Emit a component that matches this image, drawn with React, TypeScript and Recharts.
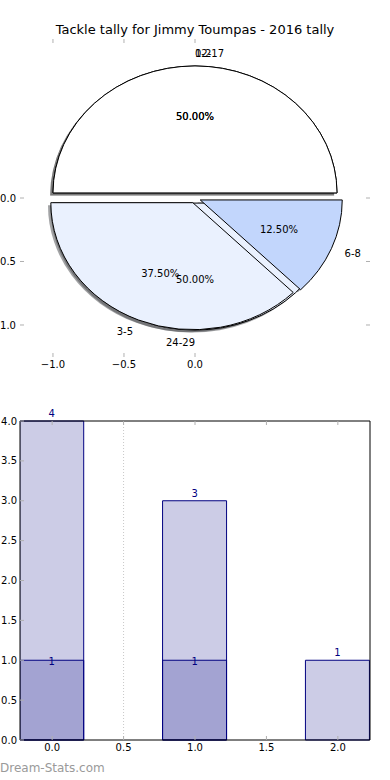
import React from 'react';
import {
  PieChart,
  Pie,
  ScatterChart,
  XAxis,
  YAxis,
  BarChart,
  Bar,
  LabelList,
  ReferenceLine,
} from 'recharts';

const FONT = '"DejaVu Sans", Verdana, sans-serif';

// ── pie: tackle ranges ──
const rangeLabels = ['0-2', '3-5', '6-8'];
const rangeCounts = [4, 3, 1];
const otherLabels = ['12-17', '24-29'];
const otherCounts = [1, 1];
const wedgeColors = ['#ffffff', '#eaf1fe', '#c2d6fc'];
const pieTicks = [-1, -0.5, 0];

// ── bars ──
const barPositions = [0, 1, 2];
const totalTackles = [4, 3, 1];
const secondTackles = [1, 1, null];
const barTicksX = [0, 0.5, 1, 1.5, 2];
const barTicksY = [0, 0.5, 1, 1.5, 2, 2.5, 3, 3.5, 4];

const rangeRows = rangeLabels.map((name, i) => ({ name, value: rangeCounts[i], fill: wedgeColors[i] }));
const otherRows = otherLabels.map((name, i) => ({ name, value: otherCounts[i], fill: wedgeColors[i] }));
const barRows = barPositions.map((x, i) => ({ x, total: totalTackles[i], second: secondTackles[i] }));

const RAD = Math.PI / 180;
const STRETCH = 142 / 127; // pie axes are not square, so wedges come out elliptical
const EXPLODE = 0.04;
const TICK = '#b0b0b0';

const fmt = (v: number) => (v < 0 ? '\u2212' + Math.abs(v).toFixed(1) : v.toFixed(1));
const blank = () => '';

function wedgePath(p: any, dx = 0, dy = 0) {
  const r = p.outerRadius;
  const rx = r * STRETCH;
  const mid = (p.startAngle + p.endAngle) / 2;
  const ox = p.cx + EXPLODE * rx * Math.cos(mid * RAD) + dx;
  const oy = p.cy - EXPLODE * r * Math.sin(mid * RAD) + dy;
  const pt = (a: number) => [ox + rx * Math.cos(a * RAD), oy - r * Math.sin(a * RAD)];
  const [x1, y1] = pt(p.startAngle);
  const [x2, y2] = pt(p.endAngle);
  const large = Math.abs(p.endAngle - p.startAngle) > 180 ? 1 : 0;
  return `M${ox},${oy}L${x1},${y1}A${rx},${r} 0 ${large} 0 ${x2},${y2}Z`;
}

function shade(hex: string) {
  const n = parseInt(hex.slice(1), 16);
  const c = [(n >> 16) & 255, (n >> 8) & 255, n & 255].map((v) => Math.round(v * 0.3));
  return `rgb(${c.join(',')})`;
}

const wedgeShape = (p: any) => (
  <path d={wedgePath(p)} fill={p.payload?.fill ?? p.fill} stroke="#000" strokeWidth={1} strokeLinejoin="round" />
);
const shadowShape = (p: any) => (
  <path d={wedgePath(p, -0.02 * 142, 0.02 * 127)} fill={shade(p.payload?.fill ?? '#ffffff')} fillOpacity={0.5} stroke="none" />
);
const noShape = () => <g />;

function wedgeLabel(p: any) {
  const r = p.outerRadius;
  const rx = r * STRETCH;
  const c = Math.cos(p.midAngle * RAD);
  const s = Math.sin(p.midAngle * RAD);
  const ox = p.cx + EXPLODE * rx * c;
  const oy = p.cy - EXPLODE * r * s;
  return (
    <g>
      <text
        x={ox + 1.1 * rx * c}
        y={oy - 1.1 * r * s}
        textAnchor={c > 0 ? 'start' : 'end'}
        dominantBaseline="central"
        fontSize={10}
        fontFamily={FONT}
        fill="#000"
      >
        {p.name}
      </text>
      <text
        x={ox + 0.6 * rx * c}
        y={oy - 0.6 * r * s}
        textAnchor="middle"
        dominantBaseline="central"
        fontSize={10}
        fontFamily={FONT}
        fill="#000"
      >
        {(p.percent * 100).toFixed(2)}%
      </text>
    </g>
  );
}

const tickText = { fill: '#000', fontSize: 10, fontFamily: FONT };

export default function App() {
  const pieCommon = {
    dataKey: 'value',
    nameKey: 'name',
    cx: 195,
    cy: 198,
    innerRadius: 0,
    outerRadius: 127,
    startAngle: 0,
    endAngle: 360,
    labelLine: false,
    isAnimationActive: false,
  };

  return (
    <div style={{ position: 'absolute', left: 0, top: 0, width: 390, height: 780, background: '#fff', fontFamily: FONT }}>
      <div style={{ position: 'absolute', top: 22, left: 0, width: 390, textAlign: 'center', fontSize: 13, lineHeight: '15px', color: '#000' }}>
        Tackle tally for Jimmy Toumpas - 2016 tally
      </div>

      {/* pie axes frame (ticks only) */}
      <div style={{ position: 'absolute', left: 0, top: 0 }}>
        <ScatterChart width={390} height={380} margin={{ top: 38, right: 0, bottom: 3, left: 0 }}>
          <XAxis xAxisId="b" type="number" dataKey="x" domain={[-1.232, 1.232]} allowDataOverflow ticks={pieTicks}
            tickFormatter={fmt} axisLine={false} tickSize={-4} tickMargin={8} height={20}
            tickLine={{ stroke: TICK }} tick={tickText} />
          <XAxis xAxisId="t" orientation="top" type="number" dataKey="x" domain={[-1.232, 1.232]} allowDataOverflow ticks={pieTicks}
            tickFormatter={blank} axisLine={false} tickSize={-4} height={1} tickLine={{ stroke: TICK }} tick={tickText} />
          <YAxis yAxisId="l" type="number" dataKey="y" domain={[-1.252, 1.252]} allowDataOverflow ticks={pieTicks}
            tickFormatter={fmt} axisLine={false} tickSize={-4} tickMargin={8} width={20}
            tickLine={{ stroke: TICK }} tick={tickText} />
          <YAxis yAxisId="r" orientation="right" type="number" dataKey="y" domain={[-1.252, 1.252]} allowDataOverflow ticks={pieTicks}
            tickFormatter={blank} axisLine={false} tickSize={-4} width={20} tickLine={{ stroke: TICK }} tick={tickText} />
        </ScatterChart>
      </div>

      {/* pies */}
      <div style={{ position: 'absolute', left: 0, top: 0 }}>
        <PieChart width={390} height={380} margin={{ top: 0, right: 0, bottom: 0, left: 0 }}>
          <Pie {...pieCommon} data={otherRows} shape={shadowShape} label={false} stroke="none" />
          <Pie {...pieCommon} data={rangeRows} shape={shadowShape} label={false} stroke="none" />
          <Pie {...pieCommon} data={otherRows} shape={wedgeShape} label={false} />
          <Pie {...pieCommon} data={rangeRows} shape={wedgeShape} label={wedgeLabel} />
          <Pie {...pieCommon} data={otherRows} shape={noShape} label={wedgeLabel} stroke="none" fill="none" />
        </PieChart>
      </div>

      {/* bar chart */}
      <div style={{ position: 'absolute', left: 0, top: 390 }}>
        <BarChart width={390} height={390} data={barRows} margin={{ top: 30, right: 0, bottom: 10, left: 0 }}>
          <XAxis xAxisId="bottom" type="number" dataKey="x" domain={[-0.225, 2.225]} allowDataOverflow ticks={barTicksX}
            tickFormatter={fmt} tickSize={-4} tickMargin={8} height={30}
            axisLine={{ stroke: '#000' }} tickLine={{ stroke: TICK }} tick={tickText} />
          <XAxis xAxisId="top" orientation="top" type="number" dataKey="x" domain={[-0.225, 2.225]} allowDataOverflow ticks={barTicksX}
            tickFormatter={blank} tickSize={-4} height={1}
            axisLine={{ stroke: '#000' }} tickLine={{ stroke: TICK }} tick={tickText} />
          <YAxis yAxisId="left" type="number" domain={[0, 4]} ticks={barTicksY} tickFormatter={fmt}
            tickSize={-4} tickMargin={7} width={20}
            axisLine={{ stroke: '#000' }} tickLine={{ stroke: TICK }} tick={tickText} />
          <YAxis yAxisId="right" orientation="right" type="number" domain={[0, 4]} ticks={barTicksY} tickFormatter={blank}
            tickSize={-4} width={20}
            axisLine={{ stroke: '#000' }} tickLine={{ stroke: TICK }} tick={tickText} />
          <ReferenceLine xAxisId="bottom" yAxisId="left" x={0.5} stroke="#c8c8c8" strokeDasharray="1 2" />
          <Bar xAxisId="bottom" yAxisId="left" dataKey="total" barSize={64} fill="#000080" fillOpacity={0.2}
            stroke="#000080" strokeWidth={1} isAnimationActive={false}>
            <LabelList dataKey="total" position="top" offset={4} fill="#000080" fontSize={10} fontFamily={FONT} />
          </Bar>
          <Bar xAxisId="top" yAxisId="left" dataKey="second" barSize={64} fill="#000080" fillOpacity={0.2}
            stroke="#000080" strokeWidth={1} isAnimationActive={false}>
            <LabelList dataKey="second" position="top" offset={-5} fill="#000080" fontSize={10} fontFamily={FONT} />
          </Bar>
        </BarChart>
      </div>

      <div style={{ position: 'absolute', left: 0, top: 761, fontSize: 12, color: '#9a9a9a' }}>
        Dream-Stats.com
      </div>
    </div>
  );
}
